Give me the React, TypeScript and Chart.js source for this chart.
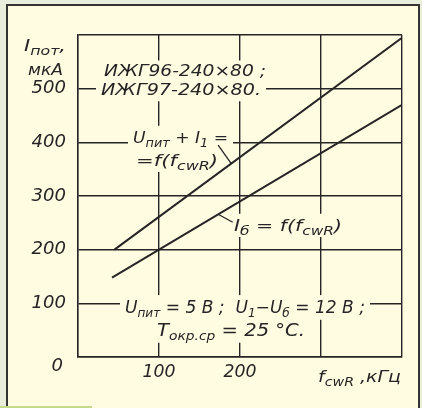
import React, { useEffect, useRef } from "react";
import { Chart, registerables } from "chart.js";

Chart.register(...registerables);

// ---- data ----
const upperX = [45, 400];
const upperY = [200, 595];
const lowerX = [42, 400];
const lowerY = [148, 470];
const xTickValues = [100, 200];
const xTickLabels = ["100", "200"];
const yTickValues = [0, 100, 200, 300, 400, 500];
const yTickLabels = ["0", "100", "200", "300", "400", "500"];
const xRange = [0, 400];
const yRange = [0, 600];
// leader lines (data units): [x1, y1, x2, y2]
const upperLeader = [173, 395, 189, 361];
const lowerLeader = [173, 266, 191, 251];

// ---- style ----
const INK = "#252525";
const CREAM = "#FFFCE2";
const OUTER = "#E9EEDC";
const FONT = '"DejaVu Sans"';

type Seg = [string, boolean];
interface Ann {
  segs: Seg[];
  x: number;
  y: number;
  w: number;
  size: number;
  mask: boolean;
}

const annotations: Ann[] = [
  { segs: [["ИЖГ96-240×80 ;", false]], x: 104, y: 71, w: 162, size: 15, mask: true },
  { segs: [["ИЖГ97-240×80.", false]], x: 101, y: 90, w: 160, size: 15, mask: true },
  { segs: [["U", false], ["пит", true], [" + I", false], ["1", true], [" =", false]], x: 133, y: 137, w: 95, size: 16, mask: true },
  { segs: [["=f(f", false], ["cwR", true], [")", false]], x: 136, y: 160, w: 82, size: 16, mask: true },
  { segs: [["I", false], ["б", true], [" = f(f", false], ["cwR", true], [")", false]], x: 234, y: 225, w: 108, size: 16, mask: true },
  { segs: [["U", false], ["пит", true], [" = 5 В ;  U", false], ["1", true], ["−U", false], ["б", true], [" = 12 В ;", false]], x: 125, y: 307, w: 240, size: 17, mask: true },
  { segs: [["T", false], ["окр.ср", true], [" = 25 °С.", false]], x: 157, y: 330, w: 148, size: 17, mask: true },
  { segs: [["f", false], ["cwR", true], [" ,кГц", false]], x: 318, y: 376, w: 83, size: 16, mask: false },
  { segs: [["I", false], ["пот", true], [",", false]], x: 24, y: 45, w: 42, size: 16, mask: false },
  { segs: [["мкА", false]], x: 28, y: 69, w: 35, size: 16, mask: false },
];

function drawRich(ctx: CanvasRenderingContext2D, a: Ann) {
  const main = `italic ${a.size}px ${FONT}`;
  const sub = `italic ${Math.round(a.size * 0.72)}px ${FONT}`;
  let w = 0;
  for (const [t, s] of a.segs) {
    ctx.font = s ? sub : main;
    w += ctx.measureText(t).width;
  }
  const sx = a.w / w;
  if (a.mask) {
    ctx.fillStyle = CREAM;
    ctx.fillRect(a.x - 5, a.y - a.size * 0.7, a.w + 10, a.size * 1.45);
  }
  ctx.save();
  ctx.translate(a.x, a.y);
  ctx.scale(sx, 1);
  ctx.fillStyle = INK;
  ctx.textBaseline = "alphabetic";
  ctx.textAlign = "left";
  const base = a.size * 0.36;
  let cx = 0;
  for (const [t, s] of a.segs) {
    ctx.font = s ? sub : main;
    ctx.fillText(t, cx, s ? base + a.size * 0.24 : base);
    cx += ctx.measureText(t).width;
  }
  ctx.restore();
}

function drawScaled(ctx: CanvasRenderingContext2D, text: string, cx: number, cy: number, size: number, w: number) {
  ctx.font = `italic ${size}px ${FONT}`;
  const nat = ctx.measureText(text).width;
  ctx.save();
  ctx.translate(cx, cy);
  ctx.scale(w / nat, 1);
  ctx.fillStyle = INK;
  ctx.textAlign = "center";
  ctx.textBaseline = "middle";
  ctx.fillText(text, 0, 0);
  ctx.restore();
}

const annPlugin = {
  id: "annPlugin",
  beforeDatasetsDraw(chart: any) {
    const ctx = chart.ctx as CanvasRenderingContext2D;
    for (const a of annotations) if (a.mask) drawRich(ctx, a);
  },
  afterDatasetsDraw(chart: any) {
    const ctx = chart.ctx as CanvasRenderingContext2D;
    const xs = chart.scales.x;
    const ys = chart.scales.y;
    ctx.save();
    ctx.strokeStyle = INK;
    ctx.lineWidth = 1.3;
    for (const L of [upperLeader, lowerLeader]) {
      ctx.beginPath();
      ctx.moveTo(xs.getPixelForValue(L[0]), ys.getPixelForValue(L[1]));
      ctx.lineTo(xs.getPixelForValue(L[2]), ys.getPixelForValue(L[3]));
      ctx.stroke();
    }
    ctx.restore();
    for (const a of annotations) if (!a.mask) drawRich(ctx, a);
    // y tick labels
    yTickValues.forEach((v, i) => {
      const label = yTickLabels[i];
      const w = label.length * 11.5;
      const right = chart.chartArea.left - 12 - (v === 0 ? 3 : 0);
      const py = ys.getPixelForValue(v) + (v === 0 ? 9 : 0);
      drawScaled(ctx, label, right - w / 2, py, 18, w);
    });
    xTickValues.forEach((v, i) => {
      const label = xTickLabels[i];
      drawScaled(ctx, label, xs.getPixelForValue(v), chart.chartArea.bottom + 16, 17, label.length * 11);
    });
  },
};

export default function App() {
  const ref = useRef<HTMLCanvasElement | null>(null);
  useEffect(() => {
    document.body.style.margin = "0";
    const canvas = ref.current!;
    const chart = new Chart(canvas, {
      type: "line",
      data: {
        datasets: [
          {
            data: upperX.map((x, i) => ({ x, y: upperY[i] })),
            borderColor: INK,
            borderWidth: 2,
            pointRadius: 0,
            tension: 0,
          },
          {
            data: lowerX.map((x, i) => ({ x, y: lowerY[i] })),
            borderColor: INK,
            borderWidth: 2,
            pointRadius: 0,
            tension: 0,
          },
        ],
      },
      options: {
        animation: false,
        responsive: false,
        maintainAspectRatio: false,
        layout: { padding: { left: 78, top: 35, right: 20, bottom: 51 } },
        plugins: { legend: { display: false }, tooltip: { enabled: false } },
        scales: {
          x: {
            type: "linear",
            min: xRange[0],
            max: xRange[1],
            ticks: { display: false, stepSize: 100 },
            grid: { color: INK, lineWidth: 1.4, drawTicks: false },
            border: { display: true, color: INK, width: 1.4 },
          },
          y: {
            type: "linear",
            min: yRange[0],
            max: yRange[1],
            ticks: { display: false, stepSize: 100 },
            grid: { color: INK, lineWidth: 1.4, drawTicks: false },
            border: { display: true, color: INK, width: 1.4 },
          },
        },
      },
      plugins: [annPlugin],
    });
    return () => chart.destroy();
  }, []);

  return (
    <div style={{ position: "absolute", left: 0, top: 0, width: 422, height: 408, background: OUTER, overflow: "hidden" }}>
      <div
        style={{
          position: "absolute",
          left: 6,
          top: 4,
          width: 410,
          height: 410,
          background: CREAM,
          borderLeft: "2px solid #333",
          borderTop: "2px solid #333",
          borderRight: "2px solid #333",
        }}
      />
      <div style={{ position: "absolute", left: 0, top: 406, width: 92, height: 2, background: "#C6DA8C" }} />
      <canvas ref={ref} width={422} height={408} style={{ position: "absolute", left: 0, top: 0 }} />
    </div>
  );
}
